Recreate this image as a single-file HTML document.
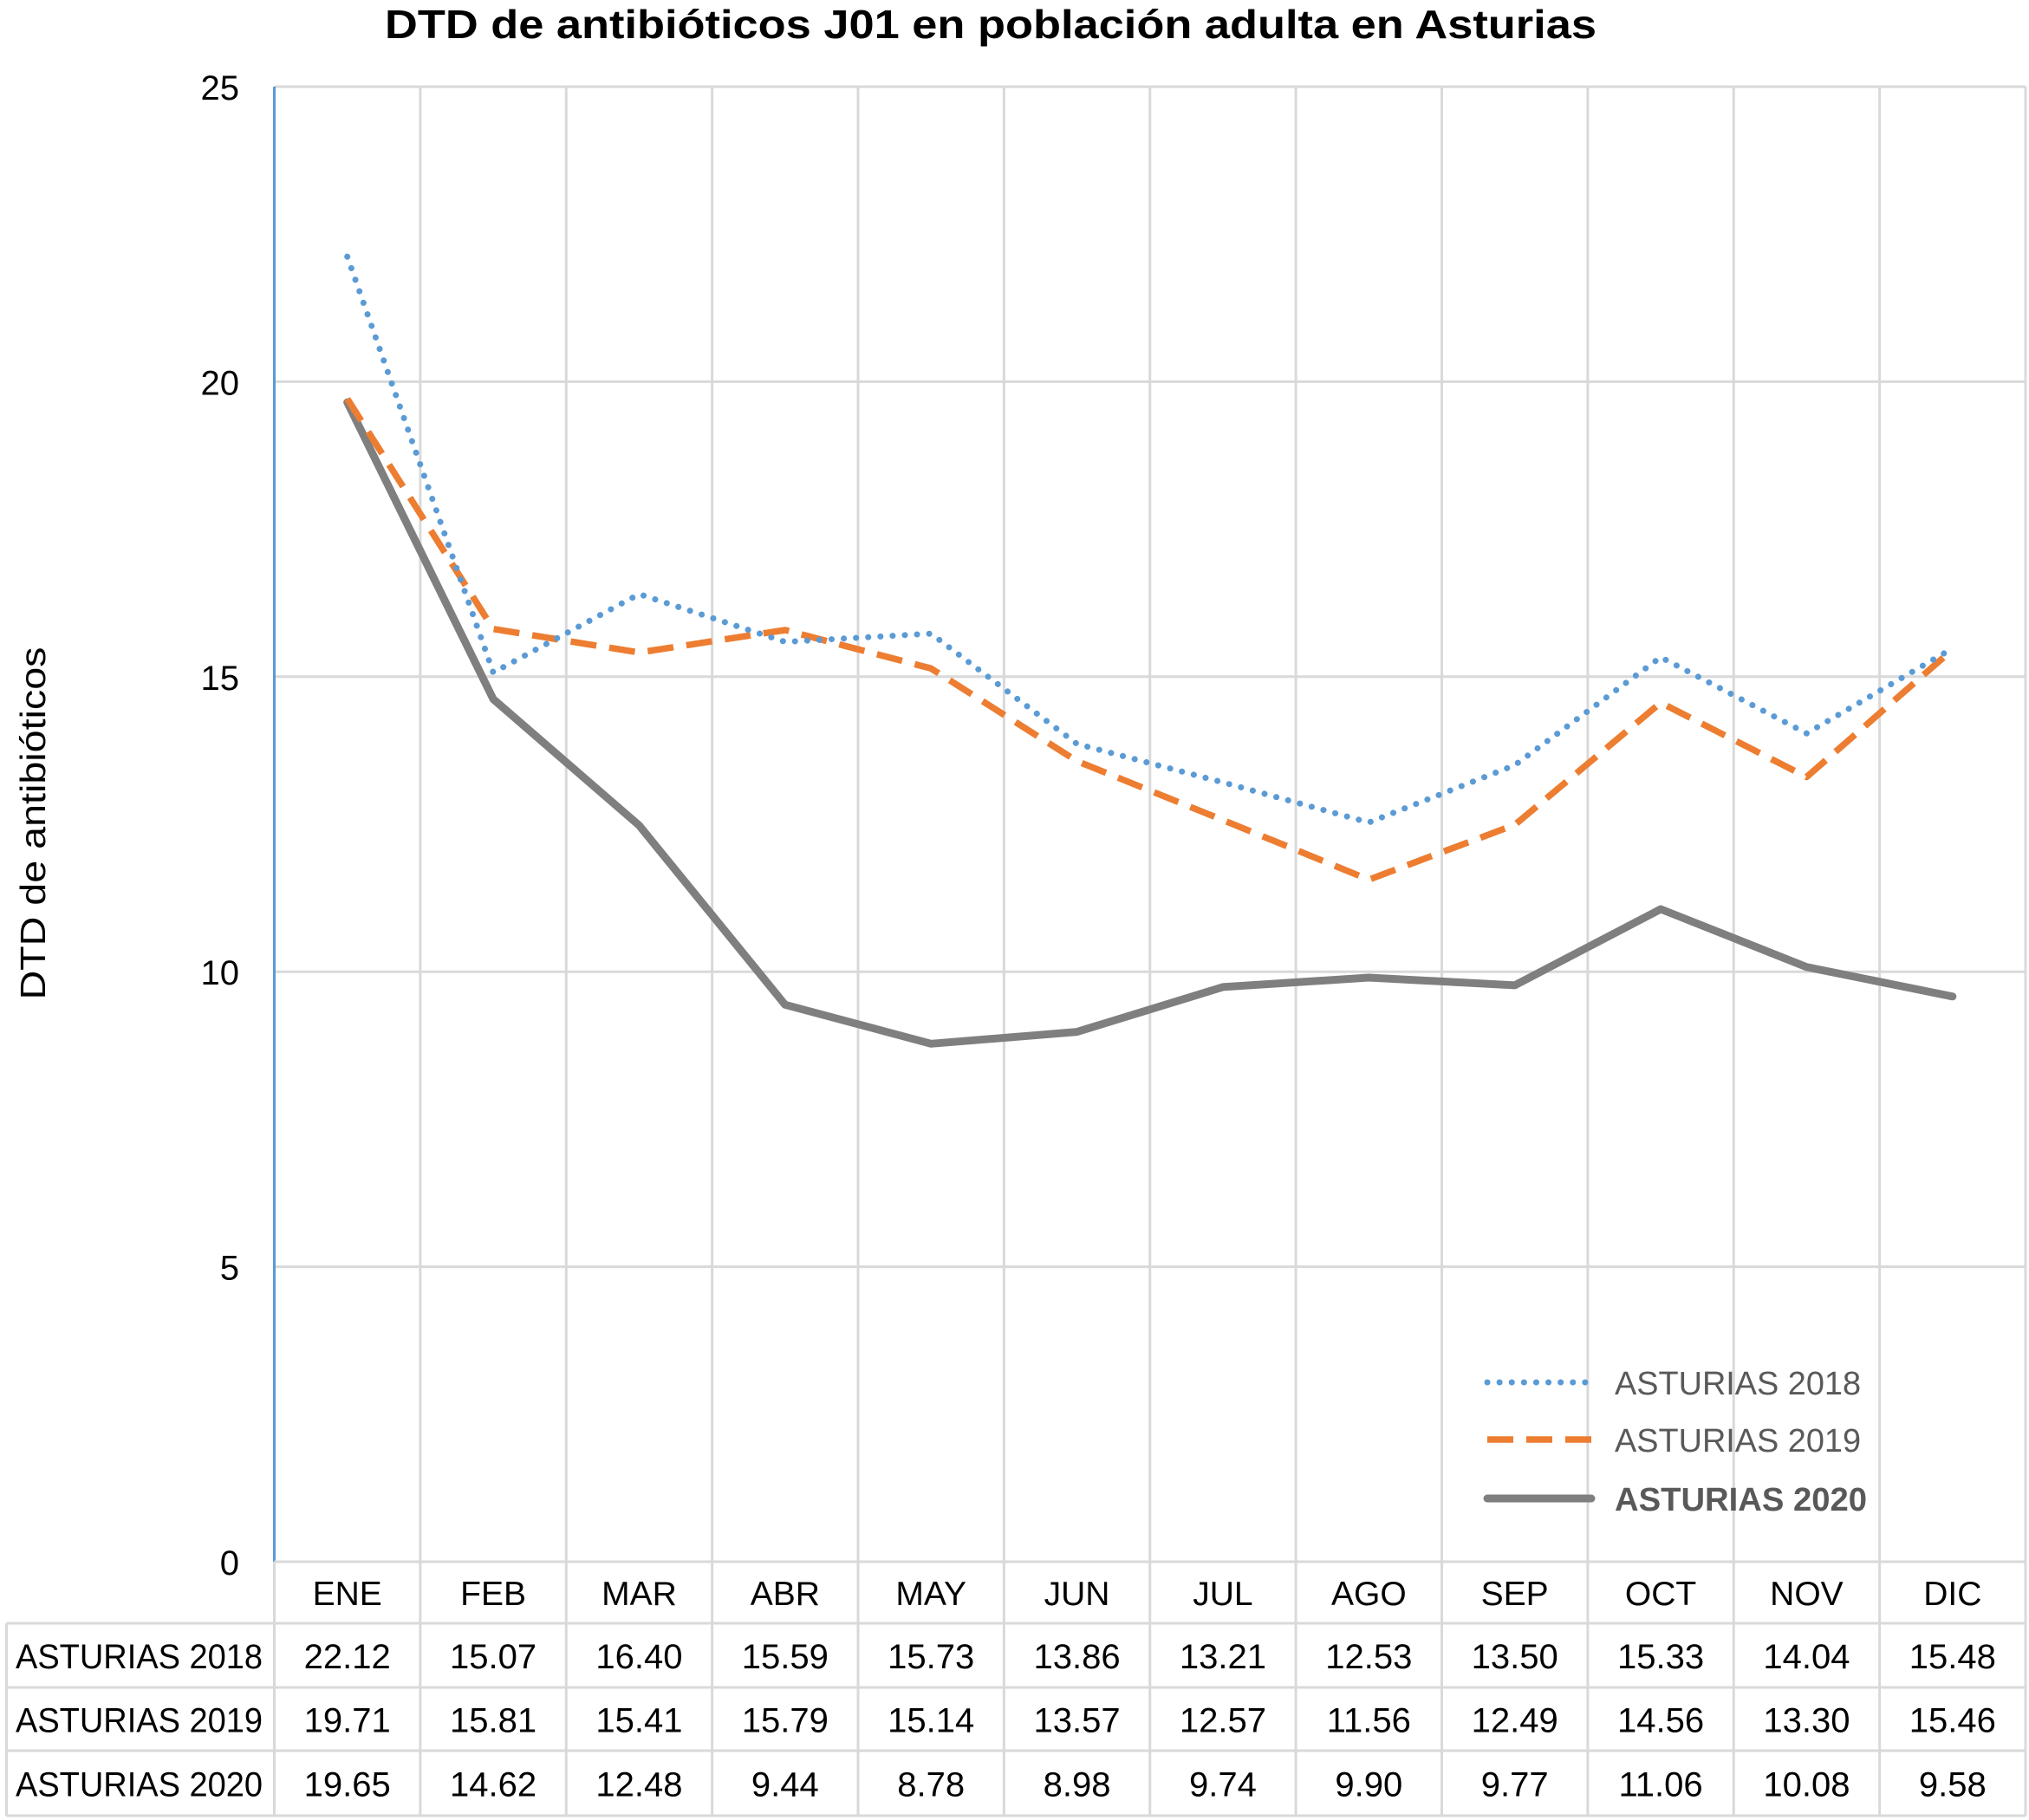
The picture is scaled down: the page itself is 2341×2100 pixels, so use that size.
<!DOCTYPE html>
<html><head><meta charset="utf-8"><style>
html,body{margin:0;padding:0;background:#fff;}
svg{display:block;font-family:"Liberation Sans",sans-serif;}
</style></head><body>
<svg id="chart" width="2341" height="2100" viewBox="0 0 2341 2100" xmlns="http://www.w3.org/2000/svg">
<text x="1143" y="44" text-anchor="middle" font-size="46" font-weight="bold" textLength="1398" lengthAdjust="spacingAndGlyphs">DTD de antibióticos J01 en población adulta en Asturias</text>
<text transform="translate(52,950) rotate(-90)" text-anchor="middle" font-size="41" textLength="407" lengthAdjust="spacingAndGlyphs">DTD de antibióticos</text>
<g id="grid"></g><g id="series"></g><g id="table"></g><g id="legend"></g>
</svg>
<script>
const months=["ENE","FEB","MAR","ABR","MAY","JUN","JUL","AGO","SEP","OCT","NOV","DIC"];
const seriesNames=["ASTURIAS 2018","ASTURIAS 2019","ASTURIAS 2020"];
const s2018=[22.12,15.07,16.40,15.59,15.73,13.86,13.21,12.53,13.50,15.33,14.04,15.48];
const s2019=[19.71,15.81,15.41,15.79,15.14,13.57,12.57,11.56,12.49,14.56,13.30,15.46];
const s2020=[19.65,14.62,12.48,9.44,8.78,8.98,9.74,9.90,9.77,11.06,10.08,9.58];
const yTicks=[0,5,10,15,20,25];

const NS="http://www.w3.org/2000/svg";
const L=316.5,R=2337,T=100,B=1802,YMAX=25;
const cw=(R-L)/months.length;
const xs=i=>L+cw*(i+0.5);
const ys=v=>B-(v/YMAX)*(B-T);
function mk(tag,attrs,parent){const e=document.createElementNS(NS,tag);for(const k in attrs)e.setAttribute(k,attrs[k]);parent.appendChild(e);return e;}
const grid=document.getElementById('grid'),ser=document.getElementById('series'),tab=document.getElementById('table'),leg=document.getElementById('legend');
const GC="#d9d9d9";
yTicks.forEach(t=>{
  const ln=mk('line',{x1:L,x2:R,y1:ys(t),y2:ys(t),stroke:GC,'stroke-width':3},grid);
  
  
  const tx=mk('text',{x:276,y:ys(t)+15,'text-anchor':'end','font-size':40,fill:'#000'},grid);
  tx.textContent=t;
  
  
});
for(let i=1;i<=months.length;i++){
  const x=L+cw*i;
  const ln=mk('line',{x1:x,x2:x,y1:T,y2:2095,stroke:GC,'stroke-width':3},grid);
  
  
}
const ax=mk('line',{x1:L,x2:L,y1:T,y2:B,stroke:'#5b9bd5','stroke-width':3},grid);


const rowY=[1802,1873,1947,2020,2095];
const lvl=mk('line',{x1:L,x2:L,y1:1802,y2:2095,stroke:GC,'stroke-width':3},tab);


const lvl2=mk('line',{x1:7.5,x2:7.5,y1:1873,y2:2095,stroke:GC,'stroke-width':3},tab);


rowY.forEach((y,k)=>{
  const ln=mk('line',{x1:k===0?L:7.5,x2:R,y1:y,y2:y,stroke:GC,'stroke-width':3},tab);
  
  
});
months.forEach((m,i)=>{
  const tx=mk('text',{x:xs(i),y:1852,'text-anchor':'middle','font-size':39},tab);
  tx.textContent=m;
  
  
});
const allSeries=[s2018,s2019,s2020];
allSeries.forEach((arr,k)=>{
  const cy=(rowY[k+1]+rowY[k+2])/2+15;
  const lb=mk('text',{x:18,y:cy,'font-size':40,textLength:285,lengthAdjust:'spacingAndGlyphs'},tab);
  lb.textContent=seriesNames[k];
  
  
  arr.forEach((v,i)=>{
    const tx=mk('text',{x:xs(i),y:cy,'text-anchor':'middle','font-size':40},tab);
    tx.textContent=v.toFixed(2);
    
    
  });
});
const styles=[
  {stroke:'#5b9bd5','stroke-width':7,'stroke-dasharray':'0.1 14','stroke-linecap':'round'},
  {stroke:'#ed7d31','stroke-width':7.5,'stroke-dasharray':'30 15','stroke-linecap':'butt'},
  {stroke:'#7f7f7f','stroke-width':9,'stroke-linecap':'round'}
];
[2,1,0].forEach(k=>{
  const pts=allSeries[k].map((v,i)=>xs(i).toFixed(1)+','+ys(v).toFixed(1)).join(' ');
  const pl=mk('polyline',Object.assign({points:pts,fill:'none','stroke-linejoin':'round'},styles[k]),ser);
  
  
});
const legY=[1595,1661,1729];
seriesNames.forEach((n,k)=>{
  const ln=mk('line',Object.assign({x1:1716,x2:1836,y1:legY[k],y2:legY[k]},styles[k]),leg);
  
  
  const tx=mk('text',{x:1863,y:legY[k]+14,'font-size':38,fill:'#595959','font-weight':k===2?'bold':'normal',textLength:k===2?291:284,lengthAdjust:'spacingAndGlyphs'},leg);
  tx.textContent=n;
  
  
});
</script>
</body></html>
